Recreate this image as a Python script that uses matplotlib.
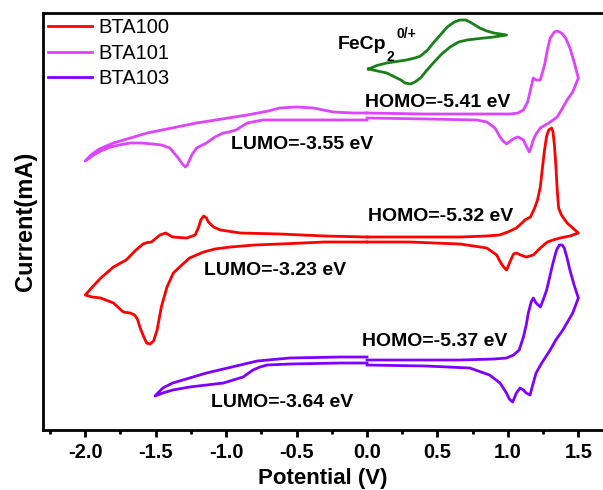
import matplotlib
matplotlib.use("Agg")
import matplotlib.pyplot as plt
from matplotlib.ticker import MultipleLocator

plt.rcParams['font.family'] = ['Liberation Sans', 'DejaVu Sans']
plt.rcParams['axes.unicode_minus'] = False

# Cyclic voltammograms (potential in V, current in a.u.)
# each compound: negative scan loop and positive scan loop, both start at 0 V
bta100_neg_v = [0.0, -0.30, -0.62, -0.80, -0.97, -1.08, -1.16, -1.26, -1.33, -1.375, -1.42, -1.46,
                -1.49, -1.515, -1.54, -1.565, -1.59, -1.61, -1.63, -1.65, -1.68, -1.73, -1.80, -1.89,
                -1.95, -2.0, -1.95, -1.89, -1.80, -1.71, -1.64, -1.59, -1.56, -1.53, -1.47, -1.43,
                -1.38, -1.28, -1.22, -1.195, -1.18, -1.16, -1.14, -1.126, -1.09, -1.04, -0.90, -0.62,
                -0.30, 0.0]
bta100_neg_i = [1.88, 1.88, 1.86, 1.85, 1.83, 1.81, 1.78, 1.72, 1.63, 1.57, 1.43, 1.23,
                1.00, 0.89, 0.86, 0.87, 0.95, 1.02, 1.11, 1.15, 1.17, 1.18, 1.27, 1.32,
                1.33, 1.35, 1.43, 1.52, 1.63, 1.70, 1.80, 1.86, 1.875, 1.88, 1.95, 1.97,
                1.93, 1.92, 1.95, 2.03, 2.10, 2.14, 2.12, 2.08, 2.03, 2.00, 1.97, 1.96,
                1.94, 1.93]
bta100_pos_v = [0.0, 0.40, 0.66, 0.85, 0.94, 1.00, 1.06, 1.10, 1.12, 1.16, 1.19, 1.21, 1.23,
                1.245, 1.26, 1.275, 1.29, 1.31, 1.32, 1.33, 1.34, 1.35, 1.36, 1.38, 1.42, 1.46,
                1.50, 1.44, 1.37, 1.32, 1.28, 1.23, 1.18, 1.13, 1.09, 1.06, 1.04, 1.02, 1.00,
                0.99, 0.97, 0.95, 0.92, 0.85, 0.66, 0.30, 0.0]
bta100_pos_i = [1.93, 1.93, 1.93, 1.94, 1.95, 1.98, 2.02, 2.07, 2.10, 2.13, 2.22, 2.30, 2.43,
                2.62, 2.80, 2.94, 3.00, 3.02, 2.98, 2.85, 2.65, 2.40, 2.22, 2.15, 2.07, 2.02,
                1.97, 1.94, 1.92, 1.90, 1.88, 1.82, 1.75, 1.73, 1.75, 1.77, 1.76, 1.70, 1.63,
                1.60, 1.63, 1.67, 1.75, 1.82, 1.86, 1.88, 1.88]

bta101_neg_v = [0.0, -0.40, -0.74, -0.85, -0.93, -0.98, -1.02, -1.08, -1.14, -1.21, -1.24, -1.26,
                -1.275, -1.29, -1.31, -1.34, -1.40, -1.46, -1.52, -1.60, -1.68, -1.76, -1.82, -1.89,
                -1.94, -1.98, -2.0, -1.96, -1.90, -1.80, -1.68, -1.56, -1.21, -0.85, -0.70, -0.62,
                -0.50, -0.38, -0.24, -0.10, 0.0]
bta101_neg_i = [3.10, 3.10, 3.10, 3.07, 3.00, 2.98, 2.97, 2.93, 2.87, 2.82, 2.76, 2.70,
                2.65, 2.63, 2.66, 2.72, 2.82, 2.85, 2.86, 2.87, 2.87, 2.85, 2.83, 2.79,
                2.75, 2.71, 2.69, 2.75, 2.81, 2.87, 2.92, 2.97, 3.07, 3.15, 3.19, 3.22,
                3.23, 3.22, 3.18, 3.17, 3.17]
bta101_pos_v = [0.0, 0.40, 0.66, 0.90, 1.02, 1.07, 1.11, 1.14, 1.16, 1.18, 1.20, 1.23, 1.26,
                1.28, 1.30, 1.33, 1.35, 1.38, 1.41, 1.44, 1.47, 1.50, 1.46, 1.42, 1.38, 1.35,
                1.29, 1.23, 1.20, 1.18, 1.165, 1.152, 1.13, 1.11, 1.074, 1.05, 1.027, 0.991,
                0.965, 0.944, 0.908, 0.85, 0.78, 0.42, 0.0]
bta101_pos_i = [3.17, 3.16, 3.16, 3.16, 3.16, 3.17, 3.20, 3.28, 3.40, 3.52, 3.50, 3.50, 3.65,
                3.80, 3.92, 3.98, 3.99, 3.97, 3.92, 3.82, 3.68, 3.52, 3.38, 3.30, 3.20, 3.13,
                3.07, 3.02, 2.96, 2.90, 2.83, 2.78, 2.84, 2.90, 2.93, 2.92, 2.90, 2.86,
                2.89, 2.93, 3.02, 3.08, 3.10, 3.11, 3.12]

bta103_neg_v = [0.0, -0.19, -0.55, -0.71, -0.76, -0.81, -0.88, -0.95, -1.02, -1.14, -1.26, -1.38,
                -1.45, -1.505, -1.45, -1.38, -1.26, -1.14, -0.90, -0.78, -0.55, -0.19, 0.0]
bta103_neg_i = [0.67, 0.67, 0.66, 0.65, 0.63, 0.60, 0.53, 0.50, 0.47, 0.45, 0.43, 0.40,
                0.37, 0.34, 0.42, 0.47, 0.52, 0.57, 0.65, 0.69, 0.72, 0.73, 0.73]
bta103_pos_v = [0.0, 0.40, 0.66, 0.90, 0.99, 1.04, 1.08, 1.11, 1.13, 1.145, 1.165, 1.18, 1.20,
                1.23, 1.25, 1.275, 1.30, 1.32, 1.345, 1.365, 1.385, 1.40, 1.42, 1.44, 1.47, 1.50,
                1.46, 1.39, 1.34, 1.30, 1.24, 1.20, 1.18, 1.157, 1.13, 1.11, 1.086, 1.06, 1.034,
                1.01, 0.99, 0.944, 0.87, 0.73, 0.42, 0.0]
bta103_pos_i = [0.70, 0.70, 0.70, 0.71, 0.72, 0.75, 0.80, 0.93, 1.05, 1.17, 1.28, 1.32, 1.27,
                1.23, 1.30, 1.40, 1.55, 1.67, 1.80, 1.85, 1.85, 1.82, 1.72, 1.60, 1.45, 1.32,
                1.17, 1.00, 0.90, 0.80, 0.67, 0.57, 0.47, 0.35, 0.37, 0.40, 0.42, 0.37, 0.28,
                0.31, 0.37, 0.47, 0.55, 0.62, 0.64, 0.65]

fc_v = [0.01, 0.07, 0.14, 0.28, 0.34, 0.38, 0.43, 0.47, 0.52, 0.57, 0.62, 0.66, 0.70, 0.73,
        0.80, 0.85, 0.90, 0.99, 0.90, 0.80, 0.71, 0.65, 0.59, 0.53, 0.47, 0.42, 0.38, 0.34,
        0.31, 0.27, 0.24, 0.14, 0.01]
fc_i = [3.61, 3.645, 3.67, 3.70, 3.72, 3.74, 3.80, 3.87, 3.95, 4.03, 4.08, 4.10, 4.10, 4.08,
        4.02, 3.99, 3.97, 3.95, 3.93, 3.915, 3.90, 3.88, 3.83, 3.76, 3.67, 3.59, 3.52, 3.48,
        3.46, 3.47, 3.50, 3.57, 3.61]

labels = ["BTA100", "BTA101", "BTA103"]
colors = ["#ff0000", "#dd44fb", "#7f00ff"]

# energy level notes: text, x, y
homo_notes = [("HOMO=-5.41 eV", 0.50, 3.27), ("HOMO=-5.32 eV", 0.52, 2.14),
              ("HOMO=-5.37 eV", 0.48, 0.89)]
lumo_notes = [("LUMO=-3.55 eV", -0.46, 2.85), ("LUMO=-3.23 eV", -0.65, 1.60),
              ("LUMO=-3.64 eV", -0.60, 0.28)]


def main():
    fig = plt.figure(figsize=(6.03, 4.90), dpi=100)
    ax = fig.add_axes([0.0713, 0.1224, 0.9287, 0.8511])

    curves = [
        (bta100_neg_v, bta100_neg_i, bta100_pos_v, bta100_pos_i),
        (bta101_neg_v, bta101_neg_i, bta101_pos_v, bta101_pos_i),
        (bta103_neg_v, bta103_neg_i, bta103_pos_v, bta103_pos_i),
    ]
    for (nv, ni, pv, pi), lab, col in zip(curves, labels, colors):
        ax.plot(nv, ni, color=col, lw=2, label=lab, solid_joinstyle="round")
        ax.plot(pv, pi, color=col, lw=2, solid_joinstyle="round")

    ax.plot(fc_v, fc_i, color="#188018", lw=2, solid_joinstyle="round")

    bold = dict(fontsize=14, fontweight="bold", ha="center", va="center")
    for txt, x, y in homo_notes + lumo_notes:
        ax.text(x, y, txt, **bold)

    # FeCp2 0/+ label
    ax.text(-0.21, 3.85, "FeCp", fontsize=14, fontweight="bold", ha="left", va="center")
    ax.text(0.165, 3.73, "2", fontsize=10, fontweight="bold", ha="center", va="center")
    ax.text(0.28, 3.96, "0/+", fontsize=10, fontweight="bold", ha="center", va="center")

    ax.set_xlim(-2.30, 1.675)
    ax.set_ylim(0, 4.17)
    ax.xaxis.set_major_locator(MultipleLocator(0.5))
    ax.xaxis.set_minor_locator(MultipleLocator(0.25))
    ax.set_yticks([])
    ax.tick_params(axis="x", which="major", direction="out", length=5, width=2, labelsize=14.5, pad=4)
    ax.tick_params(axis="x", which="minor", direction="out", length=3, width=2)
    for lbl in ax.get_xticklabels():
        lbl.set_fontweight("bold")

    for side in ["left", "bottom", "top"]:
        ax.spines[side].set_linewidth(2)
    ax.spines["right"].set_visible(False)

    ax.set_xlabel("Potential (V)", fontsize=16, fontweight="bold", labelpad=5)
    ax.set_ylabel("Current(mA)", fontsize=17, fontweight="bold", labelpad=4)

    ax.legend(loc="upper left", frameon=False, fontsize=14.5, handlelength=2.2,
              handletextpad=0.3, labelspacing=0.33, borderaxespad=0.25, borderpad=0.0)

    fig.savefig("out.png", dpi=100)


if __name__ == "__main__":
    main()
